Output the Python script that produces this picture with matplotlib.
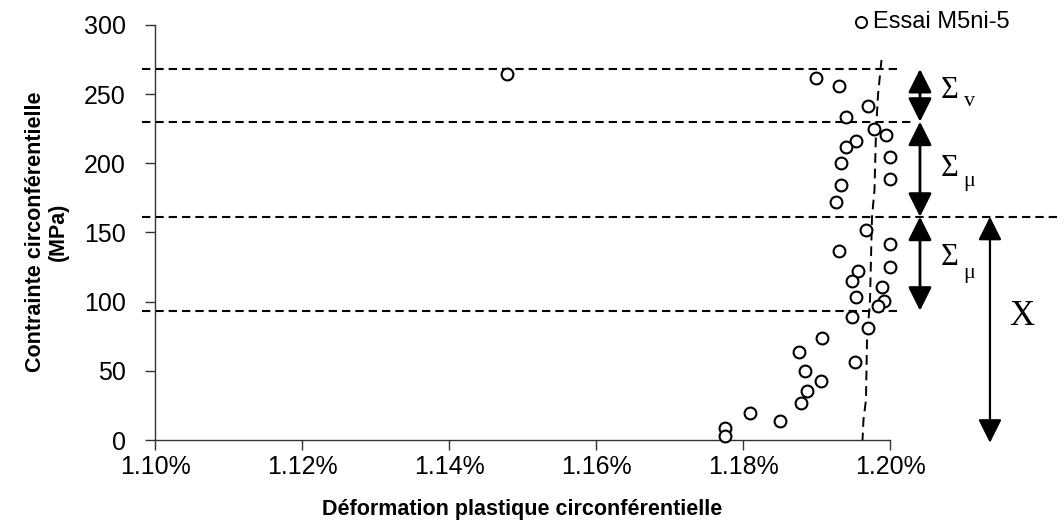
import matplotlib
matplotlib.use("Agg")
import matplotlib.pyplot as plt
from matplotlib.transforms import blended_transform_factory
from matplotlib.ticker import FuncFormatter, MultipleLocator

# ---- data (strain in %, stress in MPa) ----
strain = [1.1479, 1.1899, 1.1931, 1.1970, 1.1940, 1.1978, 1.1995, 1.1954, 1.1940,
          1.2000, 1.1934, 1.2000, 1.1934, 1.1926, 1.1967, 1.1931, 1.2000, 1.1956,
          1.2000, 1.1948, 1.1989, 1.1954, 1.1992, 1.1984, 1.1948, 1.1970, 1.1907,
          1.1876, 1.1953, 1.1885, 1.1906, 1.1887, 1.1879, 1.1810, 1.1851, 1.1775,
          1.1775]
stress = [264.6, 261.9, 255.9, 241.5, 233.7, 224.8, 220.5, 216.2, 211.7,
          204.4, 200.0, 188.5, 184.1, 171.8, 151.8, 136.8, 141.7, 122.4,
          124.8, 114.9, 110.4, 103.6, 100.7, 96.9, 88.7, 81.2, 74.0,
          63.4, 56.6, 50.1, 42.9, 35.6, 26.9, 19.3, 13.7, 8.5,
          2.9]

# dashed guide curve
curve_strain = [1.19884, 1.19837, 1.19810, 1.19789, 1.19755, 1.19728, 1.19687, 1.19673, 1.19639, 1.19626]
curve_stress = [274.7, 249.4, 224.1, 180.7, 161.2, 101.2, 72.3, 28.9, 14.5, 0.0]

# horizontal dashed levels (MPa) and their right ends (axes fraction)
levels = [268.2, 230.1, 161.4, 93.5]
level_ends = [1.011, 1.030, 1.234, 1.016]

series_name = "Essai M5ni-5"
y_label = "Contrainte circonférentielle\n(MPa)"
x_label = "Déformation plastique circonférentielle"

plt.rcParams['font.family'] = ['Liberation Sans', 'DejaVu Sans']

fig = plt.figure(figsize=(10.64, 5.28), dpi=100)
ax = fig.add_axes([155/1064, 1-440/528, 735/1064, 415/528])

ax.plot(strain, stress, linestyle='none', marker='o', markersize=8.5,
        markerfacecolor='white', markeredgecolor='black', markeredgewidth=1.5,
        clip_on=False, zorder=5)
ax.plot(curve_strain, curve_stress, color='black', lw=1.4,
        linestyle=(0, (5, 3)), clip_on=False, zorder=3)

ax.set_xlim(1.10, 1.20)
ax.set_ylim(0, 300)
ax.xaxis.set_major_locator(MultipleLocator(0.02))
ax.yaxis.set_major_locator(MultipleLocator(50))
ax.xaxis.set_major_formatter(FuncFormatter(lambda v, p: f"{v:.2f}%"))
ax.yaxis.set_major_formatter(FuncFormatter(lambda v, p: f"{v:.0f}"))

for s in ['top', 'right']:
    ax.spines[s].set_visible(False)
for s in ['left', 'bottom']:
    ax.spines[s].set_color('#333333')
    ax.spines[s].set_linewidth(1.0)
ax.tick_params(axis='both', direction='out', length=7, width=1.0, color='#333333',
               labelsize=18)
ax.tick_params(axis='y', pad=14)
ax.tick_params(axis='x', pad=4)

tr = blended_transform_factory(ax.transAxes, ax.transData)
for lv, xe in zip(levels, level_ends):
    ax.plot([-0.018, xe], [lv, lv], color='black', lw=1.5,
            linestyle=(0, (4, 2.4)), transform=tr, clip_on=False, zorder=2)

arrow_style = '<|-|>,head_length=0.9,head_width=0.45'
def darrow(x, y0, y1, lw):
    ax.annotate('', xy=(x, y0), xytext=(x, y1), xycoords=tr, textcoords=tr,
                arrowprops=dict(arrowstyle=arrow_style, mutation_scale=16,
                                lw=lw, color='black', shrinkA=0, shrinkB=0),
                annotation_clip=False)

darrow(1.0408, levels[0], levels[1], 2.0)
darrow(1.0408, levels[1], levels[2], 2.0)
darrow(1.0408, levels[2], levels[3], 2.0)
darrow(1.136, levels[2], -2, 1.6)

serif = ['Liberation Serif', 'DejaVu Serif']
def sigma(y_sig, y_sub, sub):
    ax.text(1.0816, y_sig, 'Σ', transform=tr, fontsize=22, family=serif,
            ha='center', va='center')
    ax.text(1.108, y_sub, sub, transform=tr, fontsize=16, family=serif,
            ha='center', va='center')

sigma(253, 244.6, 'v')
sigma(196.6, 186.7, 'μ')
sigma(131.6, 120.7, 'μ')
ax.text(1.179, 89.1, 'X', transform=tr, fontsize=25, family=serif,
        ha='center', va='center')

# legend
ax.plot([0.9605], [1.007], transform=ax.transAxes, marker='o', markersize=8,
        markerfacecolor='white', markeredgecolor='black', markeredgewidth=1.4,
        clip_on=False, linestyle='none')
ax.text(0.9775, 1.007, series_name, transform=ax.transAxes, fontsize=17,
        ha='left', va='center')

fig.text(47/1064, 1-232/528, y_label, rotation=90, ha='center', va='center',
         multialignment='center', fontsize=15.5, fontweight='bold', linespacing=1.1)
fig.text(522/1064, 1-509/528, x_label, ha='center', va='center',
         fontsize=15.5, fontweight='bold')

fig.savefig('out.png', dpi=100, facecolor='white')
